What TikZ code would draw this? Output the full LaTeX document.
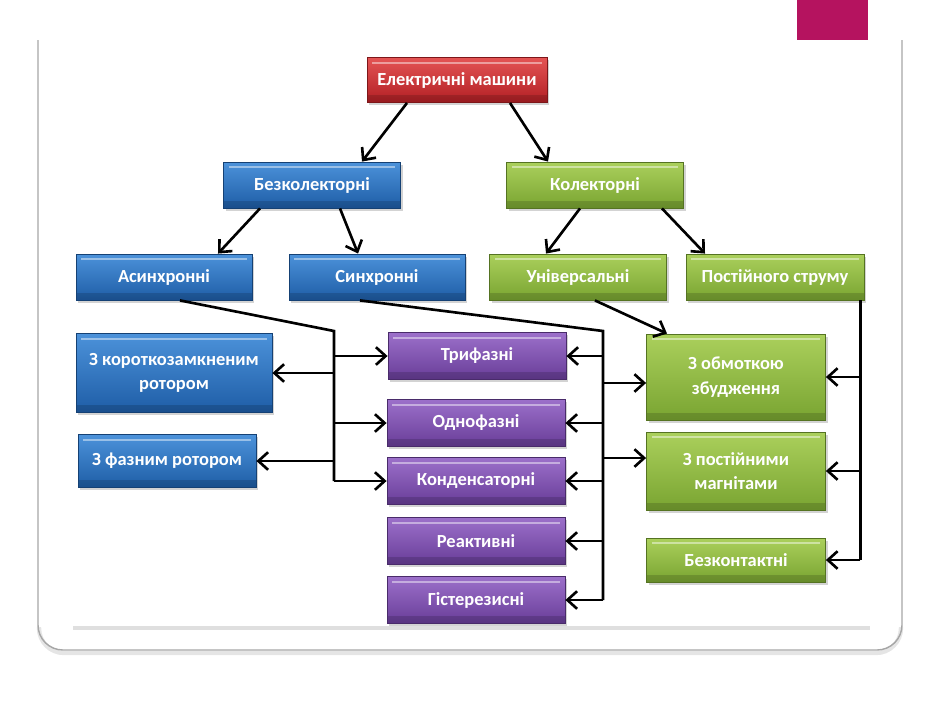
\documentclass[tikz,border=0pt]{standalone}
\usepackage{fontspec}
\setsansfont{Carlito}
\usepackage{tikz}
\usetikzlibrary{arrows.meta,shadows}

\definecolor{pinkbar}{HTML}{B5135F}
\definecolor{rtop}{HTML}{E45454}
\definecolor{rbot}{HTML}{B21F24}
\definecolor{btop}{HTML}{4C92DA}
\definecolor{bbot}{HTML}{1E5DA6}
\definecolor{gtop}{HTML}{ABD05C}
\definecolor{gbot}{HTML}{79A431}
\definecolor{ptop}{HTML}{9C70CA}
\definecolor{pbot}{HTML}{683D98}

\begin{document}
\begin{tikzpicture}[x=0.02cm,y=-0.02cm,
		box/.style={rectangle, text=white, align=center, inner sep=2pt,
			font=\sffamily\bfseries\fontsize{10.5}{14}\selectfont,
			minimum width=3.54cm, minimum height=0.92cm, line width=0.5pt,
			drop shadow={opacity=0.35,shadow xshift=1.2pt,shadow yshift=-1.5pt},
			path picture={
				\draw[white,opacity=0.45,line width=1pt]
				([xshift=3pt,yshift=-3pt]path picture bounding box.north west) --
				([xshift=-3pt,yshift=-3pt]path picture bounding box.north east);
				\fill[black,opacity=0.15] (path picture bounding box.south west)
				rectangle ([yshift=4pt]path picture bounding box.south east);}},
		redbox/.style={box, draw=rbot!70!black, top color=rtop, bottom color=rbot},
		bluebox/.style={box, draw=bbot!70!black, top color=btop, bottom color=bbot},
		greenbox/.style={box, draw=gbot!70!black, top color=gtop, bottom color=gbot},
		purplebox/.style={box, draw=pbot!70!black, top color=ptop, bottom color=pbot,
			minimum width=3.56cm, minimum height=0.94cm},
		line/.style={line width=1.5pt, black},
		arr/.style={line, -{Straight Barb[length=5.5pt,width=10pt]}}]
		\useasboundingbox (0,0) rectangle (940,704);
		
		% slide frame
		\fill[pinkbar] (797,0) rectangle (868,40);
		\draw[gray!20,line width=2.5pt,rounded corners=0.5cm] (39,627) -- (39,653) -- (901,653) -- (901,627);
		\draw[gray!70,line width=0.8pt,rounded corners=0.5cm] (38,40) -- (38,650) -- (902,650) -- (902,40);
		\draw[gray!25,line width=2pt] (73,628) -- (870,628);
		
		% top levels
		\node[redbox, minimum width=3.6cm, minimum height=0.9cm] (emach) at (457,80) {Електричні машини};
		\node[bluebox] (bezk) at (312,185) {Безколекторні};
		\node[greenbox] (kol) at (595,185) {Колекторні};
		
		\node[bluebox, minimum width=3.52cm] (asyn) at (164,277) {Асинхронні};
		\node[bluebox, minimum width=3.52cm] (syn) at (377,277) {Синхронні};
		\node[greenbox] (univ) at (578,277) {Універсальні};
		\node[greenbox, minimum width=3.56cm] (post) at (775,277) {Постійного струму};
		
		% asynchronous
		\node[bluebox, minimum width=3.92cm, minimum height=1.58cm] (korot) at (174,373) {З короткозамкненим\\ротором};
		\node[bluebox, minimum width=3.56cm, minimum height=1.06cm] (faz) at (167,461) {З фазним ротором};
		
		% synchronous
		\node[purplebox] (trif) at (477,356) {Трифазні};
		\node[purplebox] (odno) at (476,423) {Однофазні};
		\node[purplebox] (kond) at (476,481) {Конденсаторні};
		\node[purplebox] (reak) at (476,541) {Реактивні};
		\node[purplebox] (hist) at (476,600) {Гістерезисні};
		
		% collector
		\node[greenbox, minimum width=3.58cm, minimum height=1.72cm] (obm) at (736,377) {З обмоткою\\збудження};
		\node[greenbox, minimum width=3.58cm, minimum height=1.56cm] (pm) at (736,471) {З постійними\\магнітами};
		\node[greenbox, minimum width=3.58cm, minimum height=0.88cm] (bezkt) at (736,560) {Безконтактні};
		
		% tree arrows
		\draw[arr] ([xshift=-1cm]emach.south) -- ([xshift=1cm]bezk.north);
		\draw[arr] ([xshift=1.06cm]emach.south) -- ([xshift=-0.94cm]kol.north);
		\draw[arr] ([xshift=-1.04cm]bezk.south) -- ([xshift=1.08cm]asyn.north);
		\draw[arr] ([xshift=0.56cm]bezk.south) -- ([xshift=-0.38cm]syn.north);
		\draw[arr] ([xshift=-0.3cm]kol.south) -- ([xshift=-0.64cm]univ.north);
		\draw[arr] ([xshift=1.34cm]kol.south) -- ([xshift=-1.4cm]post.north);
		
		% bus from asynchronous
		\coordinate (lbus) at (334,331);
		\draw[line] ([xshift=0.32cm]asyn.south) -- (lbus) -- (lbus |- kond.west);
		\draw[arr] (lbus |- trif.west) -- (trif.west);
		\draw[arr] (lbus |- odno.west) -- (odno.west);
		\draw[arr] (lbus |- kond.west) -- (kond.west);
		\draw[arr] (lbus |- korot.east) -- (korot.east);
		\draw[arr] (lbus |- faz.east) -- (faz.east);
		
		% bus from synchronous
		\coordinate (rbus) at (603,331);
		\draw[line] ([xshift=-0.34cm]syn.south) -- (rbus) -- (rbus |- hist.east);
		\draw[arr] (rbus |- trif.east) -- (trif.east);
		\draw[arr] (rbus |- odno.east) -- (odno.east);
		\draw[arr] (rbus |- kond.east) -- (kond.east);
		\draw[arr] (rbus |- reak.east) -- (reak.east);
		\draw[arr] (rbus |- hist.east) -- (hist.east);
		\coordinate (obmin) at ([yshift=-0.12cm]obm.west);
		\coordinate (pmin) at ([yshift=0.26cm]pm.west);
		\draw[arr] (rbus |- obmin) -- (obmin);
		\draw[arr] (rbus |- pmin) -- (pmin);
		
		% universal and DC
		\draw[arr] ([xshift=0.34cm]univ.south) -- ([xshift=-1.38cm]obm.north);
		\coordinate (pbus) at ([xshift=-0.08cm]post.south east);
		\draw[line] (pbus) -- (pbus |- bezkt.east);
		\draw[arr] (pbus |- obm.east) -- (obm.east);
		\draw[arr] (pbus |- pm.east) -- (pm.east);
		\draw[arr] (pbus |- bezkt.east) -- (bezkt.east);
	\end{tikzpicture}
\end{document}
